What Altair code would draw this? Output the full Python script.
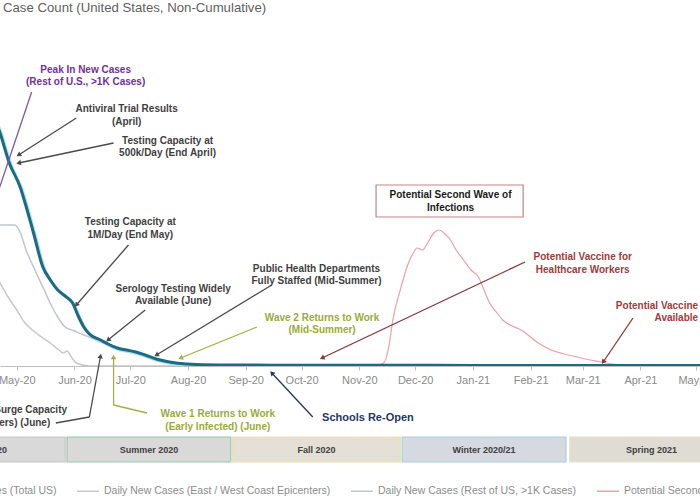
import altair as alt
import pandas as pd

FONT = "Liberation Sans"
TITLE = "Case Count (United States, Non-Cumulative)"

series_names = [
    "Daily New Cases (Total US)",
    "Daily New Cases (East / West Coast Epicenters)",
    "Daily New Cases (Rest of US, >1K Cases)",
    "Potential Second Wave",
]

total_dates = ["2020-04-10", "2020-04-22", "2020-04-27", "2020-05-03", "2020-05-05", "2020-05-10",
               "2020-05-15", "2020-05-19", "2020-05-23", "2020-05-27", "2020-05-31", "2020-06-03",
               "2020-06-06", "2020-06-09", "2020-06-15", "2020-06-19", "2020-06-24", "2020-06-29",
               "2020-07-04", "2020-07-09", "2020-07-15", "2020-07-22", "2020-07-31", "2020-08-18",
               "2020-10-01", "2021-01-01", "2021-05-10"]
total_values = [28000, 23300, 20300, 17800, 16600, 13300, 9900, 8600, 7600, 7000, 6300, 5000,
                3900, 3200, 2600, 2200, 1800, 1600, 1400, 1100, 700, 400, 200, 100, 80, 60, 50]

east_west_dates = ["2020-04-10", "2020-04-15", "2020-04-22", "2020-04-26", "2020-05-01", "2020-05-05",
                   "2020-05-10", "2020-05-15", "2020-05-19", "2020-05-23", "2020-05-26", "2020-05-28",
                   "2020-05-30", "2020-06-02", "2020-06-09", "2021-05-10"]
east_west_values = [11500, 10400, 8300, 7000, 5600, 4400, 3500, 2800, 2300, 1700, 1300, 1500,
                    1000, 300, 0, 0]

rest_dates = ["2020-04-08", "2020-04-15", "2020-04-22", "2020-04-30", "2020-05-03", "2020-05-06",
              "2020-05-10", "2020-05-15", "2020-05-20", "2020-05-23", "2020-05-27", "2020-06-01",
              "2020-06-06", "2020-06-09", "2020-06-15", "2020-06-24", "2020-07-04", "2020-07-15",
              "2020-07-31", "2020-08-18", "2021-05-10"]
rest_values = [12500, 14100, 14100, 14100, 13300, 11600, 9900, 7900, 5900, 4900, 3900, 3500,
               3100, 2900, 2400, 1700, 1300, 600, 150, 50, 40]

wave_dates = ["2020-11-08", "2020-11-14", "2020-11-17", "2020-11-19", "2020-11-23", "2020-11-27",
              "2020-11-30", "2020-12-02", "2020-12-05", "2020-12-08", "2020-12-11", "2020-12-14",
              "2020-12-17", "2020-12-20", "2020-12-23", "2020-12-27", "2020-12-31", "2021-01-04",
              "2021-01-07", "2021-01-10", "2021-01-14", "2021-01-17", "2021-01-21", "2021-01-27",
              "2021-02-01", "2021-02-06", "2021-02-12", "2021-02-19", "2021-02-26", "2021-03-05",
              "2021-03-11", "2021-03-17", "2021-03-27", "2021-04-07", "2021-05-10"]
wave_values = [0, 300, 2100, 4600, 7600, 10100, 11300, 11800, 11600, 12400, 13300, 13600,
               13200, 12600, 11600, 10600, 9600, 8900, 7600, 6300, 5300, 4600, 4100, 3600,
               2900, 2200, 1600, 1200, 900, 600, 400, 200, 100, 0, 0]

# annotations: label, date, value (case count; negatives sit below the axis)
ann_text = [
    "Peak In New Cases\n(Rest of U.S., >1K Cases)",
    "Antiviral  Trial Results\n(April)",
    "Testing Capacity at\n500k/Day  (End April)",
    "Testing Capacity at\n1M/Day (End May)",
    "Serology Testing Widely\nAvailable (June)",
    "Public Health Departments\nFully Staffed (Mid-Summer)",
    "Wave 2 Returns to Work\n(Mid-Summer)",
    "Potential Second Wave of\nInfections",
    "Potential Vaccine for\nHealthcare Workers",
    "Potential Vaccine\nAvailable",
    "Schools Re-Open",
    "Hospital Surge Capacity",
    "(Healthcare Workers) (June)",
    "Wave 1 Returns to Work\n(Early Infected) (June)",
]
ann_date = ["2020-06-07", "2020-06-29", "2020-07-21", "2020-07-01", "2020-07-24", "2020-10-09",
            "2020-10-12", "2020-12-20", "2021-03-01", "2021-05-02", "2020-10-12", "2020-05-28",
            "2020-05-19", "2020-08-17"]
ann_value = [29000, 25050, 21900, 13750, 7100, 9100, 4200, 16450, 10250, 5400, -5200, -4400,
             -5700, -5450]
ann_kind = ["peak", "milestone", "milestone", "milestone", "milestone", "milestone", "return",
            "wave", "vaccine", "vaccine", "schools", "milestone", "milestone", "return"]

arrow_x1 = ["2020-05-09", "2020-06-02", "2020-06-22", "2020-06-30", "2020-07-09", "2020-09-15",
            "2020-09-07", "2021-01-29", "2021-03-28", "2020-10-07", "2020-05-22", "2020-06-09",
            "2020-07-10", "2020-06-22"]
arrow_y1 = [27400, 24800, 22300, 12100, 5600, 8100, 3900, 10400, 4800, -5100, -5700, -5100,
            -4700, -3900]
arrow_x2 = ["2020-04-15", "2020-05-02", "2020-05-02", "2020-06-02", "2020-06-19", "2020-07-15",
            "2020-07-28", "2020-10-12", "2021-03-12", "2020-09-15", "2020-06-09", "2020-06-15",
            "2020-06-22", "2020-06-22"]
arrow_y2 = [14100, 21100, 20300, 6100, 2600, 1100, 800, 800, 400, -700, -5100, 1000, -3900, 900]
arrow_kind = ["peak", "milestone", "milestone", "milestone", "milestone", "milestone", "return",
              "vaccine", "vaccine", "schools", "milestone", "milestone", "return", "return"]

box_start = ["2020-11-10"]
box_end = ["2021-01-28"]
box_top = [18100]
box_bottom = [14900]

season_names = ["Spring 2020", "Summer 2020", "Fall 2020", "Winter 2020/21", "Spring 2021"]
season_start = ["2020-02-28", "2020-05-28", "2020-08-25", "2020-11-24", "2021-02-22"]
season_end = ["2020-05-27", "2020-08-24", "2020-11-23", "2021-02-20", "2021-05-22"]

# ---------------- styles ----------------
SERIES_COLORS = ["#1d6a83", "#c8c8c8", "#c0c6ca", "#eaa0a8"]
KIND_COLOR = {"peak": "#7030a0", "milestone": "#3f3f3f", "return": "#9aab3a",
              "wave": "#1a1a1a", "vaccine": "#a23b3b", "schools": "#1f3864"}
ARROW_COLOR = {"peak": "#7e57a8", "milestone": "#4a4a4a", "return": "#a3b04a",
               "vaccine": "#8b3535", "schools": "#1f3864"}
ANN_ALIGN = {9: "right", 10: "left", 11: "right", 12: "right"}
ANN_SIZE = {10: 11}
LINE_H = 12.5
HEAD_ANGLE = {1: 238, 2: 258, 3: 220, 4: 231, 5: 239, 6: 248, 7: 245, 8: 213, 9: 317,
              11: 11, 13: 0}
SEASON_FILL = ["#d9d9d9", "#d9d9d9", "#e4e0d5", "#d4dae0", "#dedcd3"]
SEASON_STROKE = ["#c6c6c6", "#93c9aa", "#efdcb2", "#a7cfdc", "#e6e1cc"]

XSCALE = alt.Scale(type="utc", domain=[alt.DateTime(year=2020, month=4, date=22, utc=True),
                                       alt.DateTime(year=2021, month=5, date=3, utc=True)])
YSCALE = alt.Scale(domain=[0, 36600], nice=False, zero=False)
XAXIS = alt.Axis(title=None, format="%b-%y", tickCount={"interval": "month", "step": 1},
                 labelFont=FONT, labelFontSize=11, labelColor="#8a8a8a", labelPadding=4,
                 labelFlush=False, labelOverlap=False, domainColor="#c0c0c0",
                 tickColor="#c0c0c0", tickSize=4, grid=False)


def X(field):
    return alt.X(f"{field}:T", scale=XSCALE, axis=XAXIS)


def Y(field):
    return alt.Y(f"{field}:Q", scale=YSCALE, axis=None)


LEGEND = alt.Legend(orient="none", legendX=-101, legendY=479, direction="horizontal", title=None,
                    symbolType="stroke", symbolSize=484, symbolStrokeWidth=1.5,
                    labelFont=FONT, labelFontSize=10.5, labelColor="#8c8c8c", labelLimit=400,
                    columnPadding=17, padding=0, labelOffset=4)
COLOR = alt.Color("series:N", scale=alt.Scale(domain=series_names, range=SERIES_COLORS),
                  legend=LEGEND)


def series_df(dates, values, name):
    return pd.DataFrame({"date": dates, "value": values, "series": name})


total_df = series_df(total_dates, total_values, series_names[0])
ew_df = series_df(east_west_dates, east_west_values, series_names[1])
rest_df = series_df(rest_dates, rest_values, series_names[2])
wave_df = series_df(wave_dates, wave_values, series_names[3])

layers = []

# season strip
sdf = pd.DataFrame({"season": season_names, "start": season_start, "end": season_end})
sdf["mid"] = (pd.to_datetime(sdf["start"]) + (pd.to_datetime(sdf["end"]) - pd.to_datetime(sdf["start"])) / 2).dt.strftime("%Y-%m-%d")
layers.append(alt.Chart(sdf).mark_rect(strokeWidth=1.2).encode(
    x=X("start"), x2=alt.X2("end"), y=alt.value(437), y2=alt.value(462),
    fill=alt.Fill("season:N", scale=alt.Scale(domain=season_names, range=SEASON_FILL), legend=None),
    stroke=alt.Stroke("season:N", scale=alt.Scale(domain=season_names, range=SEASON_STROKE), legend=None)))
layers.append(alt.Chart(sdf).mark_text(font=FONT, fontSize=9, fontWeight="bold", color="#404040",
                                       baseline="middle").encode(
    x=X("mid"), y=alt.value(449.5), text="season:N"))

# series lines
layers.append(alt.Chart(ew_df).mark_line(strokeWidth=1.5, interpolate="monotone", clip=True).encode(
    x=X("date"), y=Y("value"), color=COLOR))
layers.append(alt.Chart(rest_df).mark_line(strokeWidth=1.5, interpolate="monotone", clip=True).encode(
    x=X("date"), y=Y("value"), color=COLOR))
layers.append(alt.Chart(wave_df).mark_line(strokeWidth=1.2, interpolate="monotone", clip=True).encode(
    x=X("date"), y=Y("value"), color=COLOR))
layers.append(alt.Chart(total_df).mark_line(strokeWidth=3, color="#a9dff2", interpolate="monotone",
                                            clip=True, xOffset=1.6, yOffset=1.6).encode(
    x=X("date"), y=Y("value")))
layers.append(alt.Chart(total_df).mark_line(strokeWidth=3, interpolate="monotone", clip=True).encode(
    x=X("date"), y=Y("value"), color=COLOR))

# second-wave box
bdf = pd.DataFrame({"x1": box_start, "x2": box_end, "y1": box_top, "y2": box_bottom})
layers.append(alt.Chart(bdf).mark_rect(fill="white", stroke="#bf8585", strokeWidth=1.2).encode(
    x=X("x1"), x2=alt.X2("x2"), y=Y("y1"), y2=alt.Y2("y2")))

# arrows
for i in range(len(arrow_x1)):
    adf = pd.DataFrame({"x1": [arrow_x1[i]], "y1": [arrow_y1[i]],
                        "x2": [arrow_x2[i]], "y2": [arrow_y2[i]]})
    col = ARROW_COLOR[arrow_kind[i]]
    layers.append(alt.Chart(adf).mark_rule(color=col, strokeWidth=1.3, clip=(i == 0)).encode(
        x=X("x1"), y=Y("y1"), x2=alt.X2("x2"), y2=alt.Y2("y2")))
    if i in HEAD_ANGLE:
        layers.append(alt.Chart(adf).mark_point(shape="triangle-up", filled=True, size=30,
                                                opacity=1, color=col,
                                                angle=HEAD_ANGLE[i]).encode(
            x=X("x2"), y=Y("y2")))

# annotation texts
for i in range(len(ann_text)):
    tdf = pd.DataFrame({"date": [ann_date[i]], "value": [ann_value[i]], "label": [ann_text[i]]})
    n_lines = ann_text[i].count("\n") + 1
    layers.append(alt.Chart(tdf).mark_text(
        align=ANN_ALIGN.get(i, "center"), baseline="middle", lineBreak="\n", font=FONT,
        fontSize=ANN_SIZE.get(i, 10), fontWeight="bold", lineHeight=LINE_H,
        dy=-(n_lines - 1) * LINE_H / 2,
        color=KIND_COLOR[ann_kind[i]]).encode(x=X("date"), y=Y("value"), text="label:N"))

# title
layers.append(alt.Chart(pd.DataFrame({"t": [TITLE]})).mark_text(
    align="left", baseline="middle", font=FONT, fontSize=13.2, color="#5f5f5f").encode(
    x=alt.value(3), y=alt.value(8), text="t:N"))

chart = alt.layer(*layers).properties(
    width=700, height=366,
    autosize=alt.AutoSizeParams(type="none"),
    padding={"left": 0, "top": 0, "right": 0, "bottom": 134},
    background="white",
).configure_view(strokeWidth=0)

chart.save("out.html", embed_options={"renderer": "svg", "actions": False})
